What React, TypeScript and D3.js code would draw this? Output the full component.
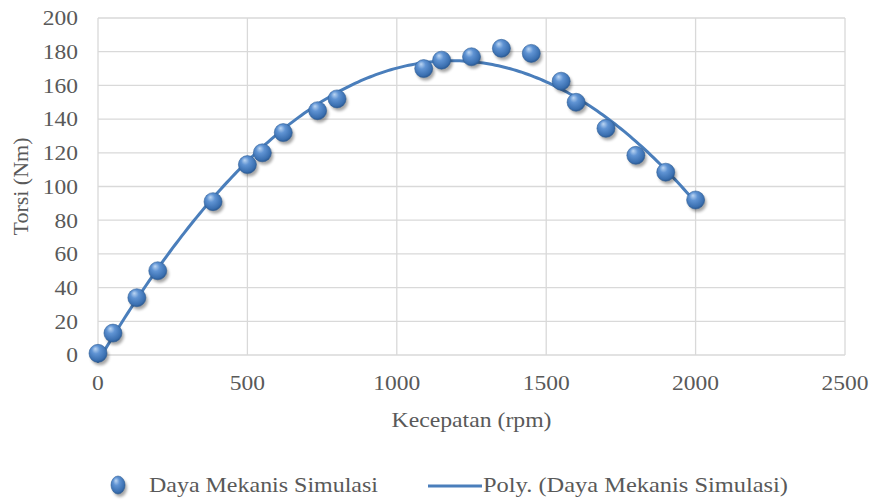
import React, { useMemo } from "react";
import * as d3 from "d3";

// measured points (rpm, Nm)
const rpm = [0, 50, 130, 200, 385, 500, 550, 620, 735, 800, 1090, 1150, 1250, 1350, 1450, 1550, 1600, 1700, 1800, 1900, 2000];
const torque = [1, 13, 34, 50, 91, 113, 120, 132, 145, 152, 170, 175, 177, 182, 179, 162.5, 150, 134.5, 118.5, 108.5, 92];
const xTicks = [0, 500, 1000, 1500, 2000, 2500];
const yTicks = [0, 20, 40, 60, 80, 100, 120, 140, 160, 180, 200];
const seriesName = "Daya Mekanis Simulasi";
const trendName = "Poly. (Daya Mekanis Simulasi)";

const W = 871, H = 500;
const m = { left: 98, right: 26, top: 18, bottom: 145 };
const txt = "#595959";
const grid = "#d9d9d9";
const blue = "#4a7ebb";
const font = "Liberation Serif, Times New Roman, DejaVu Serif, serif";

// least squares polynomial (order 2, like excel's poly trendline)
function polyfit(xs: number[], ys: number[], order: number) {
  const n = order + 1;
  const A: number[][] = [];
  for (let i = 0; i < n; i++) {
    A.push(new Array(n + 1).fill(0));
    for (let j = 0; j < n; j++) A[i][j] = d3.sum(xs, x => Math.pow(x, i + j));
    A[i][n] = d3.sum(xs, (x, k) => ys[k] * Math.pow(x, i));
  }
  for (let c = 0; c < n; c++) {
    let p = c;
    for (let r = c + 1; r < n; r++) if (Math.abs(A[r][c]) > Math.abs(A[p][c])) p = r;
    [A[c], A[p]] = [A[p], A[c]];
    for (let r = 0; r < n; r++) {
      if (r === c) continue;
      const f = A[r][c] / A[c][c];
      for (let k = c; k <= n; k++) A[r][k] -= f * A[c][k];
    }
  }
  return A.map((row, i) => row[n] / row[i]);
}

function Ball({ cx, cy, r = 9, rx }: { cx: number; cy: number; r?: number; rx?: number }) {
  const w = rx ?? r;
  return (
    <g>
      <ellipse cx={cx + 2} cy={cy + 3} rx={w} ry={r} fill="#000" opacity={0.35} filter="url(#shadow)" />
      <ellipse cx={cx} cy={cy} rx={w} ry={r} fill="url(#ball)" stroke="#2f5f98" strokeWidth={0.6} />
    </g>
  );
}

export default function App() {
  const iw = W - m.left - m.right;
  const ih = H - m.top - m.bottom;
  const x = d3.scaleLinear().domain([0, 2500]).range([m.left, m.left + iw]);
  const y = d3.scaleLinear().domain([0, 200]).range([m.top + ih, m.top]);

  const trend = useMemo(() => {
    const c = polyfit(rpm, torque, 2);
    const ext = d3.extent(rpm) as [number, number];
    const xs = d3.range(ext[0], ext[1] + 1, 10);
    const line = d3.line<number>()
      .x(v => x(v))
      .y(v => y(c.reduce((s, a, i) => s + a * Math.pow(v, i), 0)))
      .curve(d3.curveMonotoneX);
    return line(xs) || "";
  }, []);

  const tf = { fontFamily: font };

  return (
    <svg width={W} height={H} style={{ position: "absolute", left: 0, top: 0, background: "#fff", fontFamily: font }}>
      <defs>
        <radialGradient id="ball" cx="0.45" cy="0.4" r="0.65" fx="0.35" fy="0.25">
          <stop offset="0" stopColor="#bcd6f3" />
          <stop offset="0.35" stopColor="#5f93d3" />
          <stop offset="0.8" stopColor="#3a6fb0" />
          <stop offset="1" stopColor="#244f85" />
        </radialGradient>
        <filter id="shadow" x="-50%" y="-50%" width="200%" height="200%">
          <feGaussianBlur stdDeviation="1.8" />
        </filter>
      </defs>

      {/* grid */}
      <g>
        {yTicks.map(t => (
          <line key={"gy" + t} x1={m.left} x2={m.left + iw} y1={y(t)} y2={y(t)} stroke={grid} strokeWidth={1.3} />
        ))}
        {xTicks.map(t => (
          <line key={"gx" + t} x1={x(t)} x2={x(t)} y1={m.top} y2={m.top + ih} stroke={grid} strokeWidth={1.3} />
        ))}
      </g>

      {/* tick labels */}
      <g fill={txt} fontSize={21}>
        {yTicks.map(t => (
          <text key={"ly" + t} style={tf} x={m.left - 20} y={y(t)} dy="0.35em" textAnchor="end"
            transform={`translate(${m.left - 20},0) scale(1.12,1) translate(${-(m.left - 20)},0)`}>{t}</text>
        ))}
        {xTicks.map(t => (
          <text key={"lx" + t} style={tf} x={x(t)} y={390} textAnchor="middle"
            transform={`translate(${x(t)},0) scale(1.12,1) translate(${-x(t)},0)`}>{t}</text>
        ))}
      </g>

      {/* axis titles */}
      <text style={tf} x={m.left + iw / 2} y={427} textAnchor="middle" fill={txt} fontSize={21}
        textLength={160} lengthAdjust="spacingAndGlyphs">Kecepatan (rpm)</text>
      <text style={tf} transform={`translate(28,${m.top + ih / 2}) rotate(-90)`} textAnchor="middle" fill={txt} fontSize={21}
        textLength={98} lengthAdjust="spacingAndGlyphs">Torsi (Nm)</text>

      {/* trendline */}
      <path d={trend} fill="none" stroke={blue} strokeWidth={3} strokeLinecap="round" />

      {/* points */}
      <g>
        {rpm.map((v, i) => (
          <Ball key={i} cx={x(v)} cy={y(torque[i])} />
        ))}
      </g>

      {/* legend */}
      <g fill={txt} fontSize={21}>
        <Ball cx={118} cy={485} r={9} rx={7} />
        <text style={tf} x={149} y={492} textLength={229} lengthAdjust="spacingAndGlyphs">{seriesName}</text>
        <line x1={428} x2={482} y1={486} y2={486} stroke={blue} strokeWidth={3} />
        <text style={tf} x={483} y={492} textLength={305} lengthAdjust="spacingAndGlyphs">{trendName}</text>
      </g>
    </svg>
  );
}
